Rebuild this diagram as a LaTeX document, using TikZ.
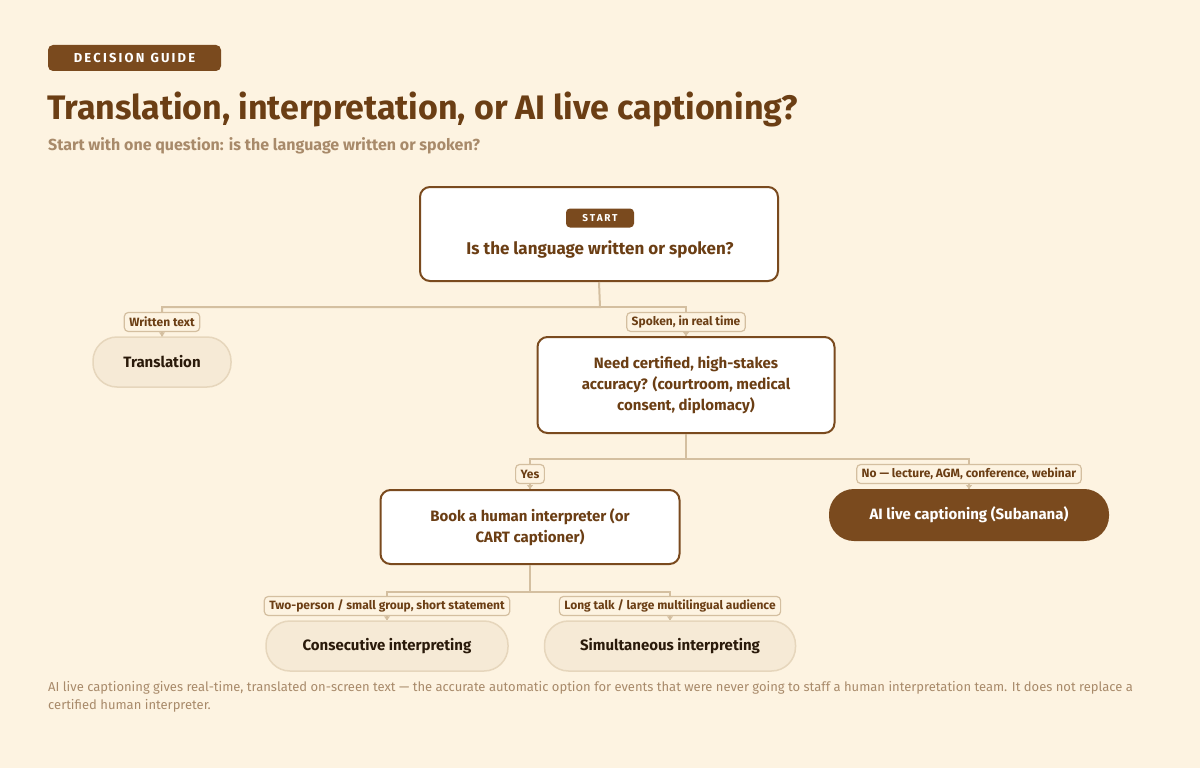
\documentclass[tikz,border=0pt]{standalone}
\usepackage{fontspec}
\setmainfont{Fira Sans}
\usetikzlibrary{arrows.meta, positioning}
\definecolor{bg}{HTML}{FDF3E1}
\definecolor{brown}{HTML}{7A4A1E}
\definecolor{dkbrown}{HTML}{6B3E14}
\definecolor{muted}{HTML}{A88A6A}
\definecolor{wire}{HTML}{D4BFA0}
\definecolor{soft}{HTML}{F6EAD6}
\definecolor{softline}{HTML}{E6D6BC}
\definecolor{ink}{HTML}{2A1A0A}
\tikzset{
  question/.style={draw=brown, line width=2pt, fill=white, rounded corners=10pt, align=center, text=dkbrown, font=\bfseries\fontsize{15}{21}\selectfont},
  result/.style={draw=softline, line width=1.5pt, fill=soft, rounded corners=24pt, text=ink, font=\bfseries\fontsize{15}{18}\selectfont, minimum height=50pt},
  answer/.style={draw=brown, line width=2pt, fill=brown, rounded corners=24pt, text=white, font=\bfseries\fontsize{15}{18}\selectfont, minimum height=50pt},
  tag/.style={draw=wire, line width=1.2pt, fill=bg, rounded corners=4pt, text=dkbrown, font=\bfseries\fontsize{12}{13}\selectfont, minimum height=19pt, inner xsep=5pt, inner ysep=0pt},
  wireline/.style={draw=wire, line width=2pt},
  tip/.style={wire, line width=1.5pt, -{Triangle[length=4pt,width=6pt]}},
}
\begin{document}
\begin{tikzpicture}[x=1pt, y=-1pt]
    \fill[bg] (0,0) rectangle (1200,768);
    \useasboundingbox (0,0) rectangle (1200,768);

    % Header
    \node[fill=brown, rounded corners=5pt, text=white, font=\bfseries\fontsize{13}{15}\selectfont, minimum width=173pt, minimum height=26pt, inner sep=0pt] (badge) at (134.5,58) {D\,E\,C\,I\,S\,I\,O\,N\ \ G\,U\,I\,D\,E};
    \node[anchor=base west, inner sep=0pt, text=dkbrown, font=\bfseries\fontsize{34}{38}\selectfont] (title) at (47,119) {Translation, interpretation, or AI live captioning?};
    \node[anchor=base west, inner sep=0pt, text=muted, font=\bfseries\fontsize{16}{19}\selectfont] (subtitle) at (48,150) {Start with one question: is the language written or spoken?};

    % Start
    \node[question, minimum width=358pt, minimum height=94pt] (start) at (599,234) {};
    \node[fill=brown, rounded corners=4pt, text=white, font=\bfseries\fontsize{10}{12}\selectfont, minimum width=68pt, minimum height=19pt, inner sep=0pt] (startpill) at (600,218) {S\,T\,A\,R\,T};
    \node[text=dkbrown, font=\bfseries\fontsize{17}{20}\selectfont] (startq) at (600,249) {Is the language written or spoken?};

    % Level 1
    \node[result, minimum width=138pt] (transl) at (162,362) {Translation};
    \node[question, minimum width=297pt, minimum height=96pt] (need) at (686,385) {Need certified, high-stakes\\accuracy? (courtroom, medical\\consent, diplomacy)};
    \draw[wireline] (start.south) -- (600,307) -| (transl.north);
    \draw[wireline] (600,307) -| (need.north);
    \node[tag] (written) at (162,322) {Written text};
    \node[tag] (spoken) at (686,322) {Spoken, in real time};
    \draw[tip] (written.south) -- (transl.north);
    \draw[tip] (spoken.south) -- (need.north);

    % Level 2
    \node[question, minimum width=299pt, minimum height=74pt] (book) at (530,527) {Book a human interpreter (or\\CART captioner)};
    \node[answer, minimum width=278pt] (ai) at (969,515) {AI live captioning (Subanana)};
    \draw[wireline] (need.south) -- (686,459) -| (book.north);
    \draw[wireline] (686,459) -| (ai.north);
    \node[tag] (yes) at (530,474) {Yes};
    \node[tag] (no) at (969,474) {No — lecture, AGM, conference, webinar};
    \draw[tip] (yes.south) -- (book.north);
    \draw[tip] (no.south) -- (ai.north);

    % Level 3
    \node[result, minimum width=242pt] (consec) at (387,646) {Consecutive interpreting};
    \node[result, minimum width=251pt] (simul) at (670,646) {Simultaneous interpreting};
    \draw[wireline] (book.south) -- (530,592) -| (consec.north);
    \draw[wireline] (530,592) -| (simul.north);
    \node[tag] (small) at (387,606) {Two-person / small group, short statement};
    \node[tag] (long) at (670,606) {Long talk / large multilingual audience};
    \draw[tip] (small.south) -- (consec.north);
    \draw[tip] (long.south) -- (simul.north);

    % Footer
    \node[anchor=base west, inner sep=0pt, text=muted, font=\fontsize{13}{18}\selectfont, align=left] (note) at (48,709) {AI live captioning gives real-time, translated on-screen text — the accurate automatic option for events that were never going to staff a human interpretation team. It does not replace a\\certified human interpreter.};
\end{tikzpicture}
\end{document}
